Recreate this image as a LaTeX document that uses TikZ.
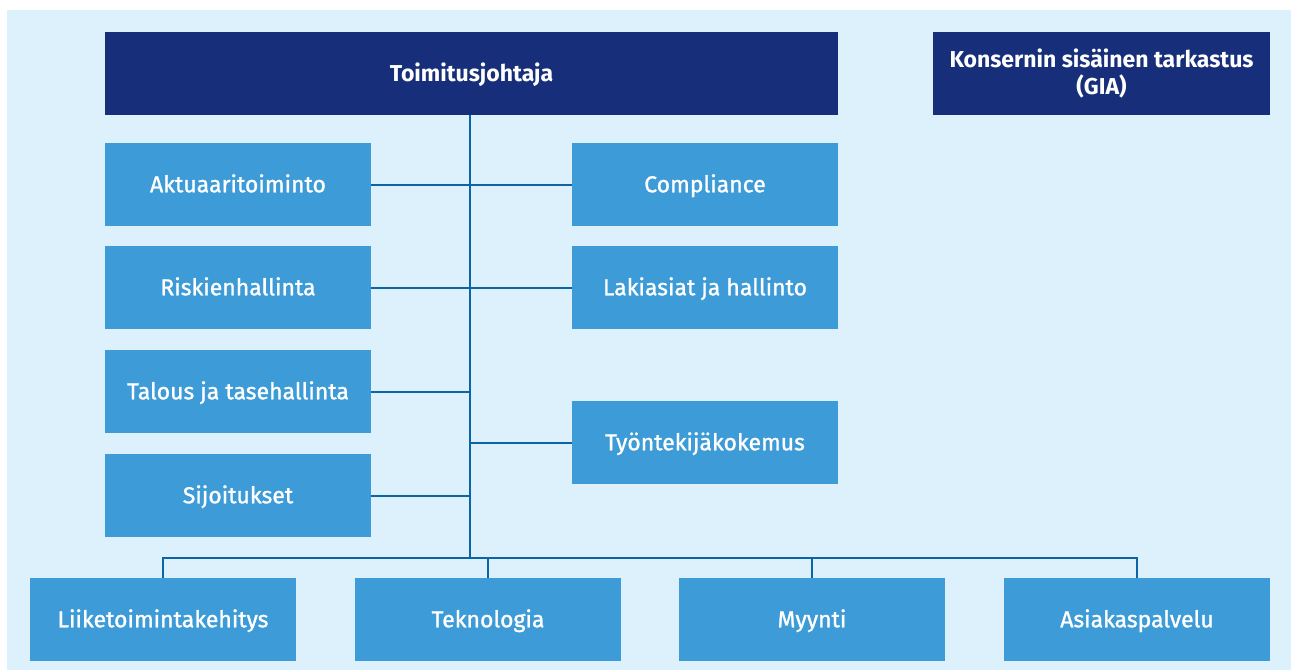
\documentclass[tikz,border=0pt]{standalone}
\usepackage{fontspec}
\setmainfont{Fira Sans}
\newfontfamily\medfont{Fira Sans}[FakeBold=1.2]
\definecolor{bgblue}{HTML}{DCF1FC}
\definecolor{navy}{HTML}{172F7A}
\definecolor{midblue}{HTML}{3D9BD8}
\definecolor{lineblue}{HTML}{0A64A6}
\begin{document}
\begin{tikzpicture}[x=1pt,y=-1pt,
  darkbox/.style={fill=navy,text=white,font=\fontsize{23}{27}\selectfont\bfseries,align=center,inner sep=0pt},
  lightbox/.style={fill=midblue,text=white,font=\fontsize{23}{27}\medfont,align=center,inner sep=0pt,text height=15.5pt,text depth=0pt},
  conn/.style={draw=lineblue,line width=2pt}]
\useasboundingbox (0,0) rectangle (1291,670);
\fill[bgblue] (7,10) rectangle (1291,670);
% boxes
\node[darkbox,minimum width=733pt,minimum height=83pt,text height=15.5pt,text depth=0pt] (ceo) at (471.5,73.5) {Toimitusjohtaja};
\node[darkbox,minimum width=337pt,minimum height=83pt] (gia) at (1101.5,73.5) {\raisebox{-2pt}{\parbox{330pt}{\centering Konsernin sisäinen tarkastus\\(GIA)}}};
\tikzset{sb/.style={lightbox,minimum width=266pt,minimum height=83pt}}
\node[sb] (akt) at (238,184.5) {Aktuaaritoiminto};
\node[sb] (comp) at (705,184.5) {Compliance};
\node[sb] (risk) at (238,287.5) {Riskienhallinta};
\node[sb] (laki) at (705,287.5) {Lakiasiat ja hallinto};
\node[sb] (tal) at (238,391.5) {Talous ja tasehallinta};
\node[sb] (tyo) at (705,442.5) {Työntekijäkokemus};
\node[sb] (sij) at (238,495.5) {Sijoitukset};
\node[sb] (lii) at (163,619.5) {Liiketoimintakehitys};
\node[sb] (tek) at (488,619.5) {Teknologia};
\node[sb] (myy) at (812,619.5) {Myynti};
\node[sb] (asi) at (1137,619.5) {Asiakaspalvelu};
% connectors
\coordinate (spine) at (470,558);
\draw[conn] (ceo.south -| spine) -- (spine);
\draw[conn] (akt.east) -- (comp.west);
\draw[conn] (risk.east) -- (laki.west);
\draw[conn] (tal.east) -- (tal.east -| spine);
\draw[conn] (tyo.west) -- (tyo.west -| spine);
\draw[conn] (sij.east) -- (sij.east -| spine);
\draw[conn] (lii.north) -- (lii.north |- spine) -- (asi.north |- spine) -- (asi.north);
\draw[conn] (tek.north) -- (tek.north |- spine);
\draw[conn] (myy.north) -- (myy.north |- spine);
\end{tikzpicture}
\end{document}
